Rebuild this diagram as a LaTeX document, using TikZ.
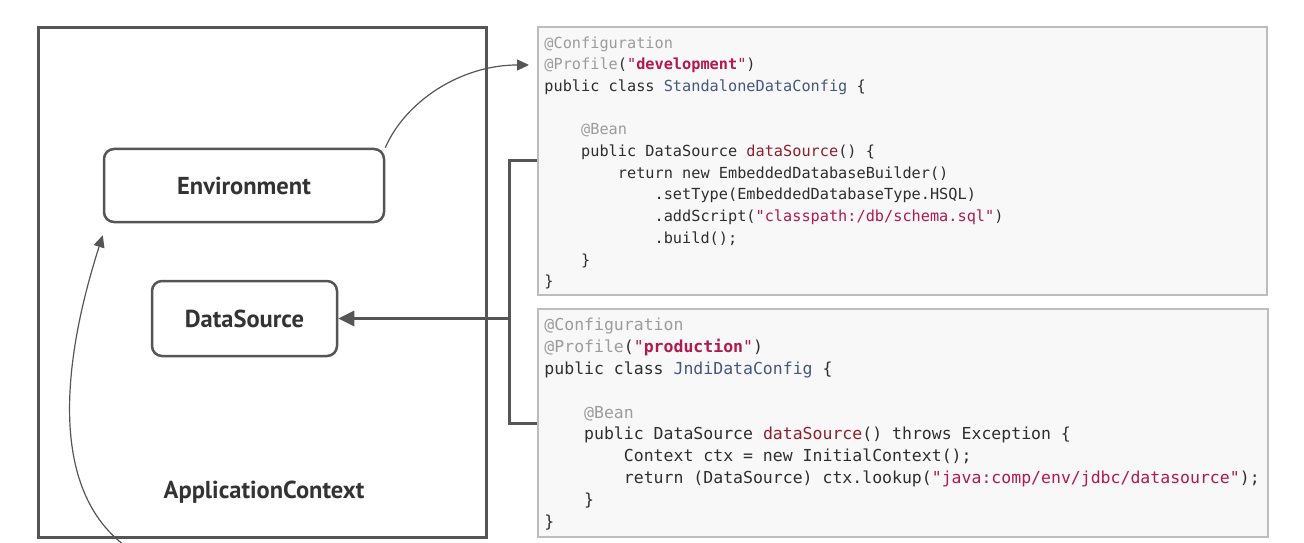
\documentclass[tikz,border=0pt]{standalone}
\usepackage{fontspec}
\setsansfont{PT Sans}
\setmonofont{DejaVu Sans Mono}
\usetikzlibrary{arrows.meta,positioning}

\definecolor{frame}{HTML}{555555}
\definecolor{ink}{HTML}{333333}
\definecolor{codeline}{HTML}{BDBDBD}
\definecolor{codebg}{HTML}{F8F8F8}
\definecolor{anno}{HTML}{9C9C9C}
\definecolor{plain}{HTML}{2E2E2E}
\definecolor{cls}{HTML}{46577F}
\definecolor{strg}{HTML}{B3194B}
\definecolor{meth}{HTML}{8E1F2B}

\newcommand{\an}[1]{\textcolor{anno}{#1}}
\newcommand{\cl}[1]{\textcolor{cls}{#1}}
\newcommand{\str}[1]{\textcolor{strg}{#1}}
\newcommand{\me}[1]{\textcolor{meth}{#1}}
\newcommand{\ind}[1]{\hspace*{\dimexpr #1\fontcharwd\font`x*4\relax}}

\begin{document}
\begin{tikzpicture}[x=1pt,y=1pt,
  bean/.style={draw=frame, line width=2.5pt, rounded corners=10pt, inner sep=0pt,
    text=ink, font=\sffamily\bfseries\fontsize{24.5}{28}\selectfont},
  codebox/.style={draw=codeline, fill=codebg, line width=1.5pt, inner sep=0pt},
  code/.style={anchor=north west, inner sep=0pt, align=left, text=plain},
  wire/.style={draw=frame, line width=3pt},
  thinwire/.style={draw=frame, line width=1.2pt, -{Triangle[length=12pt,width=11pt]}}]

  \useasboundingbox (0,0) rectangle (1304,542);

  % application context
  \node[draw=frame, line width=3pt, inner sep=0pt, minimum width=448pt, minimum height=509pt] (appctx) at (262,259.5) {};
  \node[text=ink, font=\sffamily\bfseries\fontsize{24.5}{28}\selectfont] (appctxname) at (264,50) {ApplicationContext};
  \node[bean, minimum width=280pt, minimum height=73pt] (env) at (244,356.5) {Environment};
  \node[bean, minimum width=185pt, minimum height=75pt] (ds) at (244.5,223.5) {DataSource};

  % development config
  \node[codebox, minimum width=729pt, minimum height=268pt] (devcfg) at (902.5,381) {};
  \node[code, font=\ttfamily\fontsize{15.25}{21.7}\selectfont] (devcode) at ([shift={(7,-10)}]devcfg.north west) {%
    \an{@Configuration}\\
    \an{@Profile}(\str{"\textbf{development}"})\\
    public class \cl{StandaloneDataConfig} \{\\
    \mbox{}\\
    \ind{1}\an{@Bean}\\
    \ind{1}public DataSource \me{dataSource}() \{\\
    \ind{2}return new EmbeddedDatabaseBuilder()\\
    \ind{3}.setType(EmbeddedDatabaseType.HSQL)\\
    \ind{3}.addScript(\str{"classpath:/db/schema.sql"})\\
    \ind{3}.build();\\
    \ind{1}\}\\
    \}};

  % production config
  \node[codebox, minimum width=730pt, minimum height=228pt] (prodcfg) at (903,119) {};
  \node[code, font=\ttfamily\fontsize{16.5}{21.8}\selectfont] (prodcode) at ([shift={(7,-10)}]prodcfg.north west) {%
    \an{@Configuration}\\
    \an{@Profile}(\str{"\textbf{production}"})\\
    public class \cl{JndiDataConfig} \{\\
    \mbox{}\\
    \ind{1}\an{@Bean}\\
    \ind{1}public DataSource \me{dataSource}() throws Exception \{\\
    \ind{2}Context ctx = new InitialContext();\\
    \ind{2}return (DataSource) ctx.lookup(\str{"java:comp/env/jdbc/datasource"});\\
    \ind{1}\}\\
    \}};

  % connectors
  \coordinate (fork) at (509,223.5);
  \coordinate (devtag) at (529,477);
  \coordinate (ctxin) at (128,-6);
  \draw[wire] (devcfg.west) -| (fork) |- (prodcfg.west);
  \draw[wire, -{Triangle[length=16pt,width=15pt]}] (fork) -- (ds.east);
  \draw[thinwire] (env.north east) .. controls (405,440) and (460,477) .. (devtag);
  \draw[thinwire] (ctxin) .. controls (35,60) and (75,220) .. ([yshift=-12pt]env.south west);
\end{tikzpicture}
\end{document}
